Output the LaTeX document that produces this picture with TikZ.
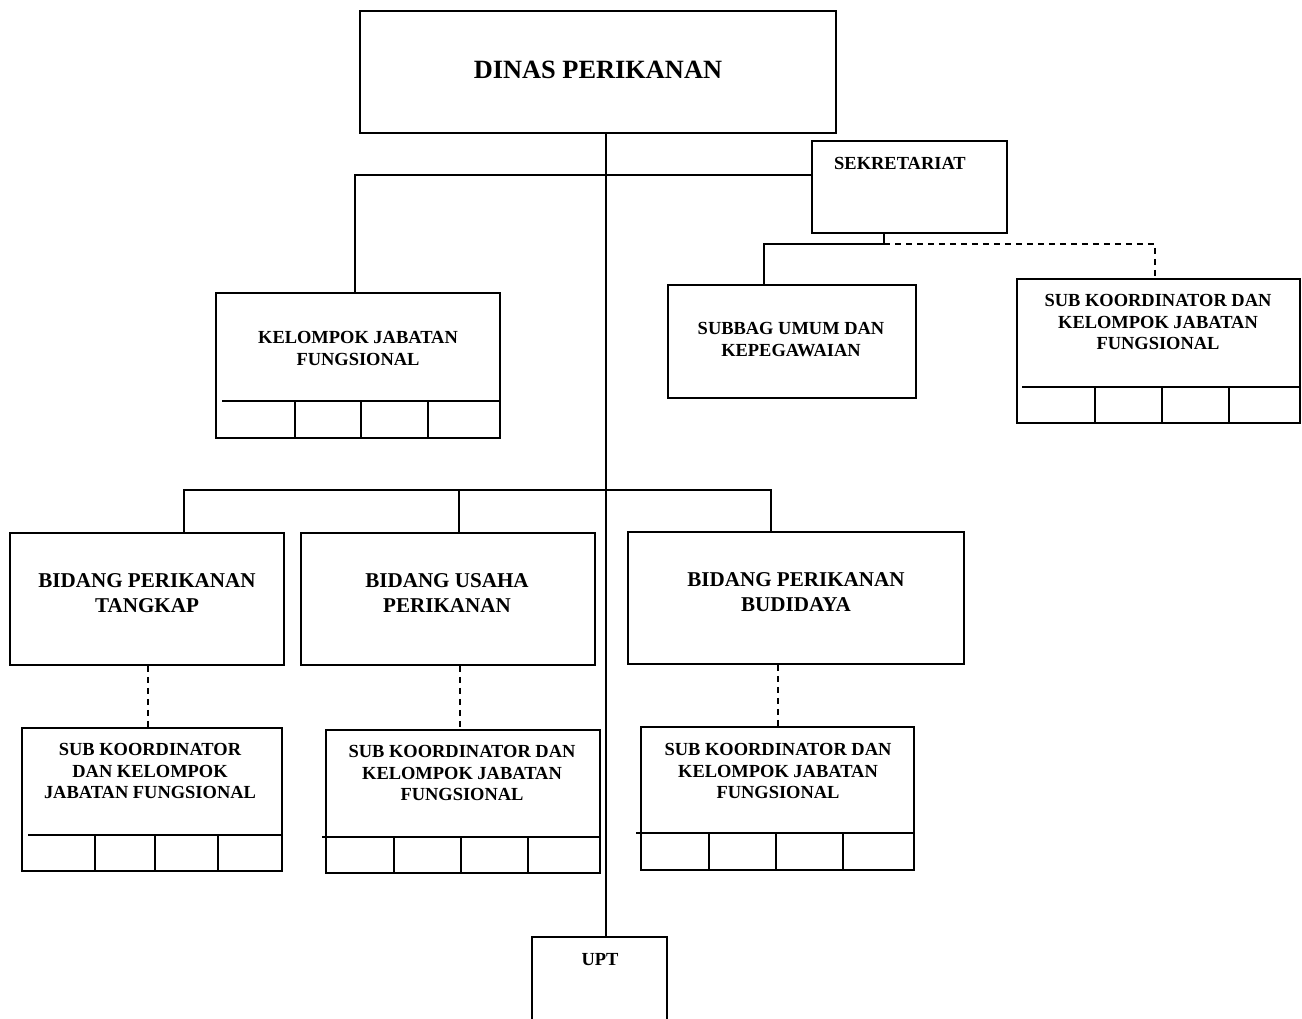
\documentclass[tikz,border=0pt]{standalone}
\usepackage{fontspec}
\setmainfont{Liberation Serif}
\usetikzlibrary{fit}
\tikzset{
  box/.style={draw, line width=1pt, inner sep=0pt},
  cell/.style={line width=1pt},
  lbl/.style={font=\bfseries\fontsize{10.5}{12.5}\selectfont, align=center, inner sep=0pt},
  biglbl/.style={font=\bfseries\fontsize{12}{14.2}\selectfont, align=center, inner sep=0pt},
  link/.style={line width=0.9pt},
  dashlink/.style={line width=0.9pt, dash pattern=on 0.12cm off 0.1cm},
}
\begin{document}
\begin{tikzpicture}[x=0.02cm, y=-0.02cm]
    \useasboundingbox (0,0) rectangle (1302,1018);
    % boxes
    \node[box, fit={(360,11) (836,133)}] (dinas) {};
    \node[box, fit={(812,141) (1007,233)}] (sekr) {};
    \node[box, fit={(216,293) (500,438)}] (kjf) {};
    \node[box, fit={(668,285) (916,398)}] (subbag) {};
    \node[box, fit={(1017,279) (1300,423)}] (skr) {};
    \node[box, fit={(10,533) (284,665)}] (bpt) {};
    \node[box, fit={(301,533) (595,665)}] (bup) {};
    \node[box, fit={(628,532) (964,664)}] (bpb) {};
    \node[box, fit={(22,728) (282,871)}] (sk1) {};
    \node[box, fit={(326,730) (600,873)}] (sk2) {};
    \node[box, fit={(641,727) (914,870)}] (sk3) {};
    \node[box, fit={(532,937) (667,1030)}] (upt) {};
    % labels
    \node[font=\bfseries\fontsize{15}{18}\selectfont, inner sep=0pt] (dinas-t) at (598,70) {DINAS PERIKANAN};
    \node[lbl] (sekr-t) at (900,163) {SEKRETARIAT};
    \node[lbl] (kjf-t) at (358,348) {KELOMPOK JABATAN\\FUNGSIONAL};
    \node[lbl] (subbag-t) at (791,340) {SUBBAG UMUM DAN\\KEPEGAWAIAN};
    \node[lbl] (skr-t) at (1158,322) {SUB KOORDINATOR DAN\\KELOMPOK JABATAN\\FUNGSIONAL};
    \node[biglbl] (bpt-t) at (147,593) {BIDANG PERIKANAN\\TANGKAP};
    \node[biglbl] (bup-t) at (447,593) {BIDANG USAHA\\PERIKANAN};
    \node[biglbl] (bpb-t) at (796,592) {BIDANG PERIKANAN\\BUDIDAYA};
    \node[lbl] (sk1-t) at (150,771) {SUB KOORDINATOR\\DAN KELOMPOK\\JABATAN FUNGSIONAL};
    \node[lbl] (sk2-t) at (462,773) {SUB KOORDINATOR DAN\\KELOMPOK JABATAN\\FUNGSIONAL};
    \node[lbl] (sk3-t) at (778,771) {SUB KOORDINATOR DAN\\KELOMPOK JABATAN\\FUNGSIONAL};
    \node[lbl] (upt-t) at (600,960) {UPT};
    % cells under the fungsional boxes
    \draw[cell] (222,401) -- (500,401);
    \foreach \x in {295,361,428} \draw[cell] (\x,401) -- (\x,438);
    \draw[cell] (1022,387) -- (1300,387);
    \foreach \x in {1095,1162,1229} \draw[cell] (\x,387) -- (\x,423);
    \draw[cell] (28,835) -- (282,835);
    \foreach \x in {95,155,218} \draw[cell] (\x,835) -- (\x,871);
    \draw[cell] (322,837) -- (600,837);
    \foreach \x in {394,461,528} \draw[cell] (\x,837) -- (\x,873);
    \draw[cell] (636,833) -- (914,833);
    \foreach \x in {709,776,843} \draw[cell] (\x,833) -- (\x,870);
    % connectors
    \coordinate (sp) at (606,175);
    \coordinate (tb) at (355,175);
    \draw[link] (sp |- dinas.south) -- (sp |- upt.north);
    \draw[link] (tb |- kjf.north) -- (tb) -- (tb -| sekr.west);
    \coordinate (sj) at (884,244);
    \coordinate (sd) at (764,244);
    \coordinate (se) at (1155,244);
    \draw[link] (sj |- sekr.south) -- (sj) -- (sd) -- (sd |- subbag.north);
    \draw[dashlink] (sj) -- (se) -- (se |- skr.north);
    \coordinate (mb1) at (184,490);
    \coordinate (mb2) at (459,490);
    \coordinate (mb3) at (771,490);
    \draw[link] (mb1 |- bpt.north) -- (mb1) -- (mb3) -- (mb3 |- bpb.north);
    \draw[link] (mb2) -- (mb2 |- bup.north);
    \coordinate (d1) at (148,700);
    \coordinate (d2) at (460,700);
    \coordinate (d3) at (778,700);
    \draw[dashlink] (d1 |- bpt.south) -- (d1 |- sk1.north);
    \draw[dashlink] (d2 |- bup.south) -- (d2 |- sk2.north);
    \draw[dashlink] (d3 |- bpb.south) -- (d3 |- sk3.north);
\end{tikzpicture}
\end{document}
